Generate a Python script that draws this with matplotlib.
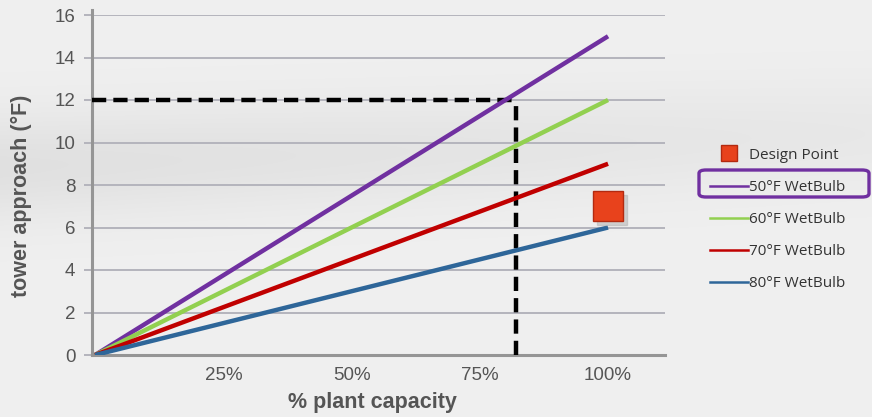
import numpy as np
import matplotlib
matplotlib.use("Agg")
import matplotlib.pyplot as plt
from matplotlib.lines import Line2D
from matplotlib.patches import FancyBboxPatch

# Tower approach vs. plant load for several wet-bulb temperatures
capacity = [0, 100]                      # % plant capacity
series_labels = ["50°F WetBulb", "60°F WetBulb", "70°F WetBulb", "80°F WetBulb"]
approach_50 = [0, 15]
approach_60 = [0, 12]
approach_70 = [0, 9]
approach_80 = [0, 6]
series_colors = ["#7030a0", "#92d050", "#c00000", "#2e6699"]

design_capacity = 100
design_approach = 7

# Operating point marked with dashed guide lines
guide_capacity = 82
guide_approach = 12

y_ticks = [0, 2, 4, 6, 8, 10, 12, 14, 16]
x_ticks = [25, 50, 75, 100]
x_tick_labels = ["25%", "50%", "75%", "100%"]

plt.rcParams["font.family"] = ["Liberation Sans", "DejaVu Sans"]

fig = plt.figure(figsize=(8.72, 4.17), dpi=100)
fig.patch.set_facecolor("#efefef")

# soft grey backdrop band
bg = fig.add_axes([0, 0, 1, 1], zorder=-10)
yy = np.linspace(0, 1, 200)[:, None]
xx = np.linspace(0, 1, 300)[None, :]
band = 0.06 * np.exp(-((yy - 0.40 + 0.08 * xx) / 0.13) ** 2) * (1.0 - 0.5 * xx)
shade = 0.94 - band
bg.imshow(np.dstack([shade, shade, shade]), extent=[0, 1, 0, 1], aspect="auto",
          interpolation="bicubic", origin="upper")
bg.set_axis_off()

ax = fig.add_axes([92 / 872, 62 / 417, 573 / 872, 340 / 417])
ax.set_facecolor("none")

series = [approach_50, approach_60, approach_70, approach_80]
for vals, lab, col in zip(series, series_labels, series_colors):
    ax.plot(capacity, vals, color=col, lw=3.2, solid_capstyle="butt", zorder=4, label=lab)

# dashed guides
ax.plot([-0.6, guide_capacity], [guide_approach, guide_approach], color="black",
        lw=3.2, dashes=(3.2, 1.6), zorder=3)
ax.plot([guide_capacity, guide_capacity], [0, guide_approach], color="black",
        lw=3.2, dashes=(3.2, 1.6), zorder=3)

# design point
ax.plot([design_capacity + 0.7], [design_approach - 0.18], marker="s", ms=22,
        color="#b0b0b0", alpha=0.5, zorder=5, linestyle="none")
ax.plot([design_capacity], [design_approach], marker="s", ms=22,
        markerfacecolor="#e8421c", markeredgecolor="#b32a10", markeredgewidth=1.0,
        linestyle="none", zorder=6)

ax.set_xlim(-0.6, 111.1)
ax.set_ylim(0, 16)
ax.set_yticks(y_ticks)
ax.set_yticklabels([str(v) for v in y_ticks])
ax.set_xticks(x_ticks)
ax.set_xticklabels(x_tick_labels)

ax.grid(axis="y", color="#b4b4bc", lw=1.4, zorder=1)
for s in ["top", "right"]:
    ax.spines[s].set_visible(False)
for s in ["left", "bottom"]:
    ax.spines[s].set_color("#959595")
    ax.spines[s].set_linewidth(2.2)
ax.spines["left"].set_bounds(0, 16.25)
ax.spines["bottom"].set_zorder(2)

ax.tick_params(axis="y", length=6, width=1.4, color="#b4b4bc", labelsize=13.5,
               labelcolor="#555555", pad=6)
ax.tick_params(axis="x", length=0, labelsize=13.5, labelcolor="#555555", pad=9)

ax.set_ylabel("tower approach (°F)", fontsize=15.5, fontweight="bold", color="#555555")
ax.set_xlabel("% plant capacity", fontsize=15.5, fontweight="bold", color="#555555")
ax.yaxis.set_label_coords(-0.105, 0.469)
ax.xaxis.set_label_coords(0.49, -0.11)

# legend
dp_handle = Line2D([], [], marker="s", ms=11, markerfacecolor="#e8421c",
                   markeredgecolor="#b32a10", linestyle="none")
leg_handles = [dp_handle] + [Line2D([], [], color=c, lw=1.8) for c in series_colors]
leg = fig.legend(leg_handles, ["Design Point"] + series_labels,
                 loc="upper left", bbox_to_anchor=(696 / 872, 1 - 134 / 417),
                 frameon=False, handlelength=2.5, handletextpad=0.1,
                 labelspacing=1.12, prop={"family": ["Open Sans", "DejaVu Sans"], "size": 11})
for t in leg.get_texts():
    t.set_color("#333333")

# highlight around the 50°F entry
fig.patches.append(FancyBboxPatch((699 / 872, 1 - 197 / 417), 170 / 872, 27 / 417,
                                  boxstyle="round,pad=0,rounding_size=0.008",
                                  transform=fig.transFigure, fill=False,
                                  edgecolor="#7030a0", lw=2.4, zorder=10))

fig.savefig("out.png", dpi=100, facecolor=fig.get_facecolor())
